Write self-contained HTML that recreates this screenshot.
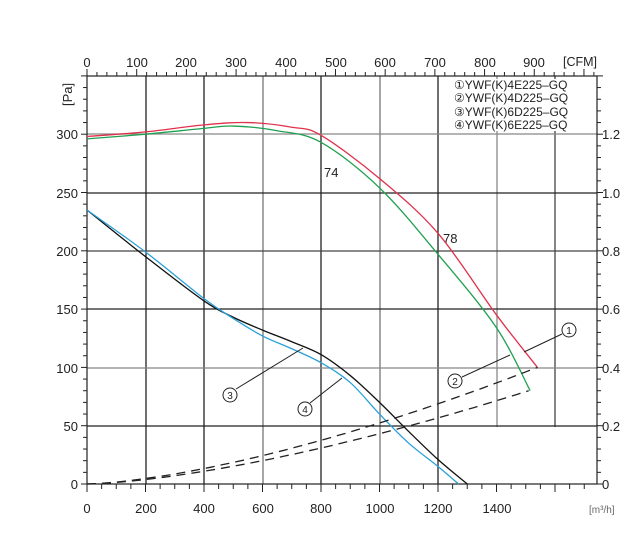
<!DOCTYPE html>
<html><head><meta charset="utf-8"><style>
html,body{margin:0;padding:0;background:#fff;}
svg{display:block;font-family:"Liberation Sans",sans-serif;}
</style></head><body>
<svg width="640" height="537" viewBox="0 0 640 537" xmlns="http://www.w3.org/2000/svg">
<rect width="640" height="537" fill="#fff"/>
<g id="grid" stroke-width="1.3">
 <line x1="146" y1="76" x2="146" y2="484" stroke="#222"/>
 <line x1="204" y1="76" x2="204" y2="484" stroke="#222"/>
 <line x1="263" y1="76" x2="263" y2="484" stroke="#777"/>
 <line x1="321" y1="76" x2="321" y2="484" stroke="#222"/>
 <line x1="380" y1="76" x2="380" y2="484" stroke="#777"/>
 <line x1="438" y1="76" x2="438" y2="484" stroke="#222"/>
 <line x1="497" y1="76" x2="497" y2="427" stroke="#888"/>
 <line x1="555" y1="76" x2="555" y2="427" stroke="#444"/>
 <line x1="87" y1="134" x2="597" y2="134" stroke="#888"/>
 <line x1="87" y1="193" x2="597" y2="193" stroke="#222"/>
 <line x1="87" y1="251" x2="597" y2="251" stroke="#444"/>
 <line x1="87" y1="309" x2="597" y2="309" stroke="#222"/>
 <line x1="87" y1="368" x2="597" y2="368" stroke="#888"/>
 <line x1="87" y1="426" x2="597" y2="426" stroke="#222"/>
</g>
<rect x="450" y="79" width="140" height="52" fill="#fff"/>
<g stroke="#222" stroke-width="1.2" fill="none">
 <rect x="87" y="76" width="510" height="408"/>
</g>
<g id="ticks" stroke="#222" stroke-width="1"></g>
<g font-size="13" fill="#222">
 <g text-anchor="end">
  <text x="78" y="139">300</text><text x="78" y="198">250</text><text x="78" y="256">200</text>
  <text x="78" y="314">150</text><text x="78" y="373">100</text><text x="78" y="431">50</text><text x="78" y="489">0</text>
 </g>
 <g text-anchor="start">
  <text x="602" y="139">1.2</text><text x="602" y="198">1.0</text><text x="602" y="256">0.8</text>
  <text x="602" y="314">0.6</text><text x="602" y="373">0.4</text><text x="602" y="431">0.2</text><text x="602" y="489">0</text>
 </g>
 <g text-anchor="middle">
  <text x="87" y="513">0</text><text x="146" y="513">200</text><text x="204" y="513">400</text><text x="263" y="513">600</text>
  <text x="321" y="513">800</text><text x="380" y="513">1000</text><text x="438" y="513">1200</text><text x="497" y="513">1400</text>
  <text x="87" y="67">0</text><text x="137" y="67">100</text><text x="186" y="67">200</text><text x="236" y="67">300</text>
  <text x="286" y="67">400</text><text x="336" y="67">500</text><text x="385" y="67">600</text><text x="435" y="67">700</text>
  <text x="485" y="67">800</text><text x="534" y="67">900</text>
 </g>
 <text x="563" y="66" font-size="12.5">[CFM]</text>
 <text x="589" y="513" font-size="10" fill="#666">[m³/h]</text>
 <text transform="translate(72,106) rotate(-90)" font-size="13">[Pa]</text>
 <text x="324" y="177" font-size="13">74</text>
 <text x="443" y="243" font-size="13">78</text>
 <g font-size="12">
  <text x="454" y="89">①YWF(K)4E225–GQ</text>
  <text x="454" y="102">②YWF(K)4D225–GQ</text>
  <text x="454" y="116">③YWF(K)6D225–GQ</text>
  <text x="454" y="129">④YWF(K)6E225–GQ</text>
 </g>
</g>
<g fill="none" stroke-width="1.3">
 <path id="red" stroke="#e0304a" d=""/>
 <path id="green" stroke="#20a050" d=""/>
 <path id="black" stroke="#111" d=""/>
 <path id="blue" stroke="#2aa0d8" d=""/>
 <path id="d1" stroke="#222" stroke-dasharray="9,6" d=""/>
 <path id="d2" stroke="#222" stroke-dasharray="9,6" d=""/>
</g>
<g stroke="#222" stroke-width="1" fill="#fff">
 <line x1="562" y1="334" x2="524" y2="352"/>
 <line x1="462" y1="377" x2="510" y2="355"/>
 <line x1="236" y1="389" x2="303" y2="348"/>
 <line x1="310" y1="403" x2="342" y2="378"/>
 <circle cx="569" cy="330" r="7"/><circle cx="455" cy="381" r="7"/>
 <circle cx="230" cy="395" r="7"/><circle cx="305" cy="409" r="7"/>
</g>
<g font-size="10" text-anchor="middle" fill="#222">
 <text x="569" y="334">1</text><text x="455" y="385">2</text><text x="230" y="399">3</text><text x="305" y="413">4</text>
</g>
</svg>
<script>
var NS="http://www.w3.org/2000/svg";
function X(m){return 87+m*0.2925;}function Y(p){return 484-p*1.166;}
function sm(pts){var P=pts.map(function(a){return [X(a[0]),Y(a[1])];});var d="M"+P[0][0].toFixed(1)+","+P[0][1].toFixed(1);
for(var i=0;i<P.length-1;i++){var p0=P[i-1]||P[i],p1=P[i],p2=P[i+1],p3=P[i+2]||p2;
var c1=[p1[0]+(p2[0]-p0[0])/6,p1[1]+(p2[1]-p0[1])/6],c2=[p2[0]-(p3[0]-p1[0])/6,p2[1]-(p3[1]-p1[1])/6];
d+=" C"+c1.join(",")+" "+c2.join(",")+" "+p2.join(",");}return d;}
function set(id,pts){document.getElementById(id).setAttribute("d",sm(pts));}
set("red",[[0,298],[200,302],[400,308],[550,310],[700,306],[800,299],[1000,262],[1200,215],[1400,145],[1540,100]]);
set("green",[[0,296],[200,300],[400,305],[500,307],[650,303],[800,293],[1000,254],[1200,197],[1400,134],[1515,80]]);
set("black",[[0,235],[200,195],[400,157],[500,143],[600,132],[700,122],[800,111],[900,93],[1000,70],[1100,45],[1200,21],[1300,0]]);
set("blue",[[0,235],[200,199],[400,159],[500,142],[600,127],[700,116],[800,104],[900,87],[1000,60],[1100,35],[1200,15],[1270,0]]);
function dash(id,M,Pm){var d="";for(var i=0;i<=40;i++){var m=M*i/40,p=Pm*Math.pow(m/M,1.5);d+=(i?" L":"M")+X(m).toFixed(1)+","+Y(p).toFixed(1);}document.getElementById(id).setAttribute("d",d);}
dash("d1",1540,100);dash("d2",1510,80);
var g=document.getElementById("ticks");
function ln(x1,y1,x2,y2){var l=document.createElementNS(NS,"line");l.setAttribute("x1",x1);l.setAttribute("y1",y1);l.setAttribute("x2",x2);l.setAttribute("y2",y2);g.appendChild(l);}
for(var p=0;p<=350;p+=10){var y=Y(p),L=(p%50==0)?6:4;ln(87-L,y,87,y);ln(597,y,597+L,y);}
for(var m=0;m<=1740;m+=50){var x=X(m),L=(m%200==0)?8:5;ln(x,484,x,484+L);}
for(var c=0;c<=1020;c+=20){var x=X(c*1.699),L=(c%100==0)?7:4;ln(x,76-L,x,76);}
</script>
</body></html>
